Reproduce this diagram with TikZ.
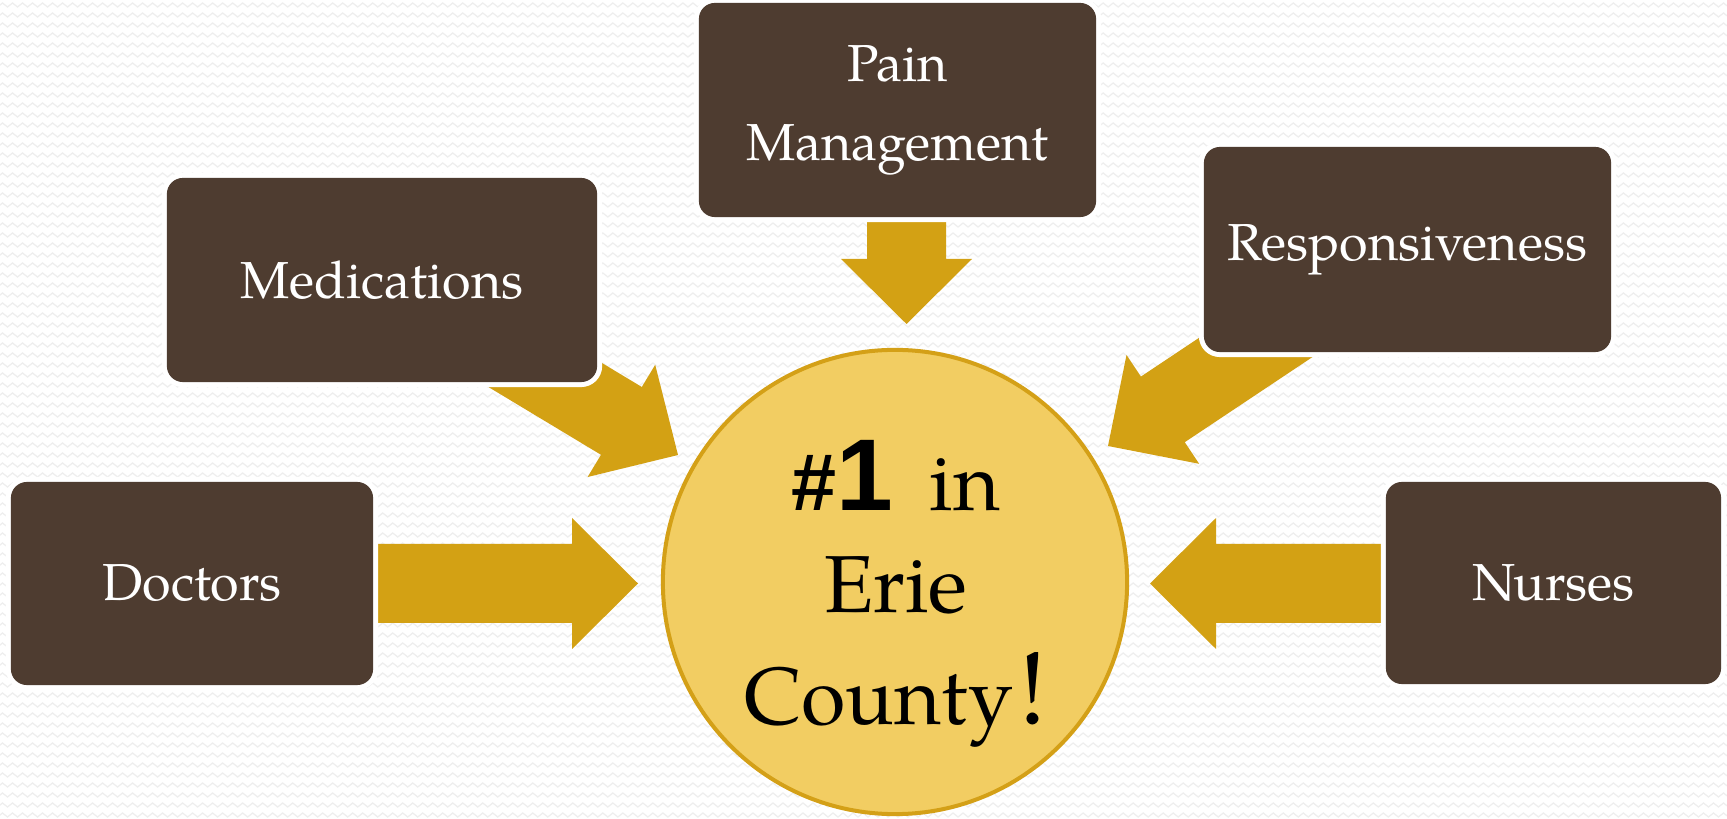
\documentclass[tikz,border=0pt]{standalone}
\usepackage{fontspec}
\setmainfont{TeX Gyre Pagella}
\setsansfont{Liberation Sans}
\usetikzlibrary{decorations.pathmorphing}
\definecolor{boxbrown}{HTML}{4E3C30}
\definecolor{arrowgold}{HTML}{D3A114}
\definecolor{circfill}{HTML}{F2CD62}
\definecolor{circline}{HTML}{D4A017}
\definecolor{wavegray}{HTML}{EEEEEE}
\begin{document}
\begin{tikzpicture}[x=0.01cm,y=-0.01cm,
  bgwave/.style={draw=wavegray, line width=0.35pt, decorate,
    decoration={zigzag, segment length=1mm, amplitude=0.2mm}},
  blockarrow/.style={fill=arrowgold},
  topicbox/.style={rectangle, rounded corners=1.6mm, fill=boxbrown,
    preaction={draw=white, line width=2.85pt},
    text=white, font=\fontsize{14.8}{22.5}\selectfont, align=center,
    inner sep=0pt, outer sep=0pt},
  hub/.style={circle, fill=circfill, draw=circline, line width=1.14pt,
    minimum size=46.4mm, inner sep=0pt},
  hubtext/.style={align=center, inner sep=0pt, font=\fontsize{23}{29}\selectfont}
]
\useasboundingbox (0,0) rectangle (1727,819);
\fill[white] (0,0) rectangle (1727,819);
\begin{scope}
  \clip (0,0) rectangle (1727,819);
  \foreach \yy in {5,15,...,825}
    \draw[bgwave] (-10,\yy) -- (1740,\yy);
\end{scope}

% block arrows
\fill[blockarrow] (340,544) -- (572,544) -- (572,518) -- (638,583.5)
  -- (572,649) -- (572,623) -- (340,623) -- cycle;
\fill[blockarrow] (1420,544) -- (1216,544) -- (1216,518) -- (1150,583.5)
  -- (1216,649) -- (1216,623) -- (1420,623) -- cycle;
\fill[blockarrow] (867,190) -- (946,190) -- (946,259) -- (972,259)
  -- (906.5,324) -- (841,259) -- (867,259) -- cycle;
\fill[blockarrow] (1307.1,265.8) -- (1140.9,376.6) -- (1126.5,355.0)
  -- (1108,446) -- (1199.1,463.8) -- (1184.7,442.2) -- (1350.9,331.4) -- cycle;
\fill[blockarrow] (470.4,283.8) -- (641.8,387.0) -- (655.2,364.8)
  -- (678,455) -- (587.6,477.0) -- (601.0,454.8) -- (429.6,351.6) -- cycle;

% topic boxes
\node[topicbox, minimum width=39.7mm, minimum height=21.4mm] (pain) at (897.5,110) {Pain\\Management};
\node[topicbox, minimum width=43.0mm, minimum height=20.4mm] (meds) at (382,280) {Medications};
\node[topicbox, minimum width=40.7mm, minimum height=20.5mm] (resp) at (1407.5,249.5) {Responsiveness};
\node[topicbox, minimum width=36.2mm, minimum height=20.3mm] (docs) at (192,583.5) {Doctors};
\node[topicbox, minimum width=33.5mm, minimum height=20.2mm] (nurses) at (1553.5,583) {Nurses};

% hub
\node[hub] (hub) at (895,582) {};
\node[hubtext] (hublabel) at (896,594)
  {{\sffamily\bfseries\#{\fontsize{29}{29}\selectfont 1}}\hspace{0.45em}in\\
   Erie\\[3pt]
   County\hspace{0.07em}{\fontsize{29.5}{29}\selectfont !}};
\end{tikzpicture}
\end{document}
